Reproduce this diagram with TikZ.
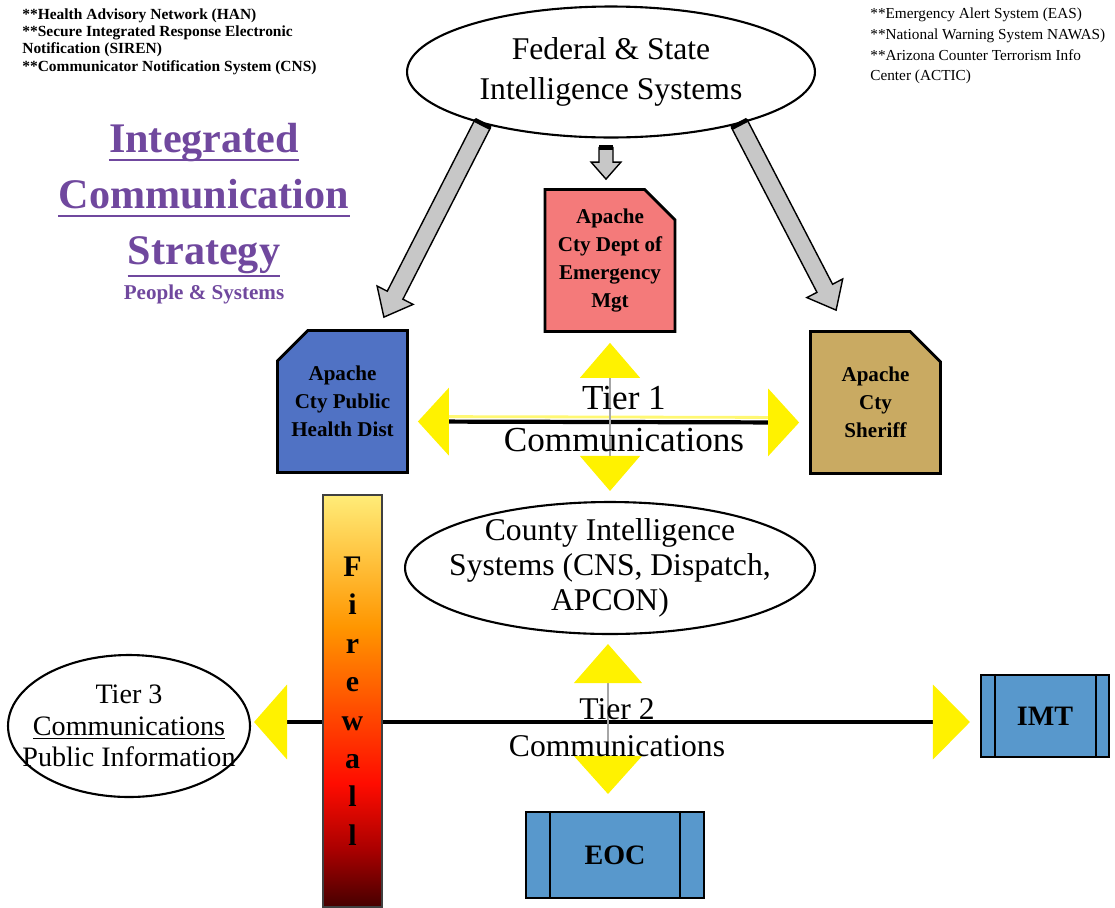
\documentclass[tikz,border=0pt]{standalone}
\usepackage{fontspec}
\setmainfont{Liberation Serif}
\usetikzlibrary{calc,arrows.meta,shapes.geometric,shapes.misc}
\definecolor{titlepurple}{RGB}{112,72,158}
\definecolor{healthblue}{RGB}{80,114,196}
\definecolor{dempink}{RGB}{244,122,122}
\definecolor{sherifftan}{RGB}{201,170,98}
\definecolor{opsblue}{RGB}{88,152,204}
\definecolor{fwtop}{RGB}{255,236,120}
\definecolor{fworange}{RGB}{255,150,0}
\definecolor{fwred}{RGB}{255,12,0}
\definecolor{fwdeep}{RGB}{170,0,0}
\definecolor{fwdark}{RGB}{70,0,0}
\pgfdeclareverticalshading{firewallshade}{100bp}{color(0bp)=(fwdark); color(25bp)=(fwdark); color(32bp)=(fwdeep); color(40bp)=(fwred); color(59bp)=(fworange); color(75bp)=(fwtop); color(100bp)=(fwtop)}
\newcommand\blockarrow[5]{%
	\coordinate (ba) at ($(#2)!#5!(#1)$);
	\draw[fill=black!22, line width=0.8pt] ($(#1)!#3!90:(#2)$) -- ($(ba)!#3!90:(#2)$) -- ($(ba)!#4!90:(#2)$) -- (#2) -- ($(ba)!#4!-90:(#2)$) -- ($(ba)!#3!-90:(#2)$) -- ($(#1)!#3!-90:(#2)$) -- cycle;
	\draw[line width=2.5pt] ($(#1)!#3!90:(#2)$) -- ($(#1)!#3!-90:(#2)$);}
\tikzset{
	bubble/.style={ellipse, draw, line width=1.2pt, fill=white, align=center, inner xsep=-60pt, inner ysep=-30pt},
	agency/.style={chamfered rectangle, chamfered rectangle xsep=0.5cm, draw, line width=1.6pt, align=center, inner xsep=-0.5cm, inner ysep=0pt, minimum width=2.6cm, minimum height=2.84cm, font=\fontsize{12}{16}\selectfont\bfseries},
	opsbox/.style={rectangle, draw, line width=1.2pt, fill=opsblue, font=\fontsize{16}{18}\selectfont\bfseries},
	titletext/.style={inner sep=0pt, text=titlepurple, font=\fontsize{24}{28}\selectfont\bfseries},
	titleline/.style={titlepurple, line width=1.6pt},
	notes/.style={inner sep=0pt, align=left, anchor=north west},
	tierlabel/.style={inner sep=0pt, align=center},
	tieronelink/.style={line width=2.4pt, {Triangle[length=0.62cm, width=1.34cm, color=yellow]}-{Triangle[length=0.62cm, width=1.34cm, color=yellow]}},
	tieroneup/.style={black!35, line width=0.6pt, {Triangle[length=0.7cm, width=1.2cm, color=yellow]}-{Triangle[length=0.7cm, width=1.2cm, color=yellow]}},
	tiertwolink/.style={line width=2.7pt, {Triangle[length=0.66cm, width=1.48cm, color=yellow]}-{Triangle[length=0.74cm, width=1.48cm, color=yellow]}},
	tiertwoup/.style={black!35, line width=0.6pt, {Triangle[length=0.78cm, width=1.36cm, color=yellow]}-{Triangle[length=0.76cm, width=1.36cm, color=yellow]}}
}

\begin{document}
\begin{tikzpicture}[x=0.02cm, y=-0.02cm]
			%%%%% START %%%%%
			
			\useasboundingbox (0, 0) rectangle (1115, 907);
			
			\node[notes, font=\fontsize{8.8}{9.9}\selectfont\bfseries] (hannotes) at (22, 8) {**Health Advisory Network (HAN)\\**Secure Integrated Response Electronic\\Notification (SIREN)\\**Communicator Notification System (CNS)};
			\node[notes, font=\fontsize{8.7}{11.7}\selectfont] (easnotes) at (870, 8) {**Emergency Alert System (EAS)\\**National Warning System NAWAS)\\**Arizona Counter Terrorism Info\\Center (ACTIC)};
			
			\node[titletext, anchor=base] (titleA) at (204, 152) {Integrated};
			\node[titletext, anchor=base] (titleB) at (204, 208) {Communication};
			\node[titletext, anchor=base] (titleC) at (204, 264) {Strategy};
			\node[titletext, anchor=base, font=\fontsize{12}{14}\selectfont\bfseries] (people) at (204, 299) {People \& Systems};
			\draw[titleline] ($(titleA.base west)+(0, 8)$) -- ($(titleA.base east)+(0, 8)$);
			\draw[titleline] ($(titleB.base west)+(0, 8)$) -- ($(titleB.base east)+(0, 8)$);
			\draw[titleline] ($(titleC.base west)+(0, 12)$) -- ($(titleC.base east)+(0, 12)$);
			
			\node[bubble, minimum width=8.16cm, minimum height=2.62cm, font=\fontsize{18}{22.8}\selectfont] (fed) at (611, 72) {Federal \& State\\Intelligence Systems};
			
			\node[agency, chamfered rectangle corners=north east, fill=dempink] (dem) at (610, 260.5) {Apache\\Cty Dept of\\Emergency\\Mgt};
			\node[agency, chamfered rectangle corners=north west, fill=healthblue] (health) at (342.5, 401.5) {Apache\\Cty Public\\Health Dist};
			\node[agency, chamfered rectangle corners=north east, fill=sherifftan] (sheriff) at (875.5, 402.5) {Apache\\Cty\\Sheriff};
			
			\coordinate (healthtip) at ($(health.north east)+(-25, -12)$);
			\coordinate (sherifftip) at ($(sheriff.north west)+(27, -20)$);
			\coordinate (fedfoot) at ($(fed.south)+(-5, 9)$);
			\coordinate (demtip) at ($(dem.north)+(-4, -9)$);
			\blockarrow{fed.202}{healthtip}{5pt}{11.5pt}{14pt}
			\blockarrow{fed.338}{sherifftip}{5pt}{11.5pt}{14pt}
			\blockarrow{fedfoot}{demtip}{4pt}{8.5pt}{9.7pt}
			
			\node[bubble, minimum width=8.2cm, minimum height=2.64cm, font=\fontsize{18}{20}\selectfont] (county) at (610, 568) {County Intelligence\\Systems (CNS, Dispatch,\\APCON)};
			
			\draw[yellow!55, line width=1.6pt, shorten <=0.62cm, shorten >=0.62cm] ($(health.east)+(9, 15)$) -- ($(sheriff.west)+(-10, 15)$);
			\draw[tieronelink] ($(health.east)+(9, 20)$) -- ($(sheriff.west)+(-10, 20)$);
			\draw[tieroneup, shorten <=0.2cm, shorten >=0.2cm] (dem.south) -- (county.north);
			\node[tierlabel, font=\fontsize{20}{24}\selectfont] (tieronelbl) at (624, 419) {Tier 1\\Communications};
			
			\node[bubble, minimum width=4.84cm, minimum height=2.84cm, font=\fontsize{16}{18}\selectfont] (tier3) at (129, 726) {Tier 3\\\underline{Communications}\\Public Information};
			\node[opsbox, minimum width=2.56cm, minimum height=1.64cm] (imt) at (1045, 716) {IMT};
			\node[opsbox, minimum width=3.56cm, minimum height=1.72cm] (eoc) at (615, 855) {EOC};
			\draw[line width=1.2pt] ($(imt.north west)+(15, 0)$) -- ($(imt.south west)+(15, 0)$);
			\draw[line width=1.2pt] ($(imt.north east)+(-14, 0)$) -- ($(imt.south east)+(-14, 0)$);
			\draw[line width=1.2pt] ($(eoc.north west)+(25, 0)$) -- ($(eoc.south west)+(25, 0)$);
			\draw[line width=1.2pt] ($(eoc.north east)+(-25, 0)$) -- ($(eoc.south east)+(-25, 0)$);
			
			\draw[tiertwolink, shorten <=0.06cm, shorten >=0.2cm] ($(tier3.east)+(0, -4)$) -- ($(imt.west)+(0, 6)$);
			\draw[tiertwoup, shorten <=0.18cm, shorten >=0.34cm] ($(county.south)+(-2, 0)$) -- ($(county.south |- eoc.north)+(-2, 0)$);
			\node[tierlabel, font=\fontsize{18}{21}\selectfont] (tiertwolbl) at (617, 728) {Tier 2\\Communications};
			
			\node[draw=black!75, line width=0.8pt, shading=firewallshade, minimum width=1.18cm, minimum height=8.24cm, align=center, font=\fontsize{17}{21.9}\selectfont\bfseries] (firewall) at (352.5, 701) {F\\i\\r\\e\\w\\a\\l\\l};
			
			%%%%% END %%%%%
\end{tikzpicture}
\end{document}
